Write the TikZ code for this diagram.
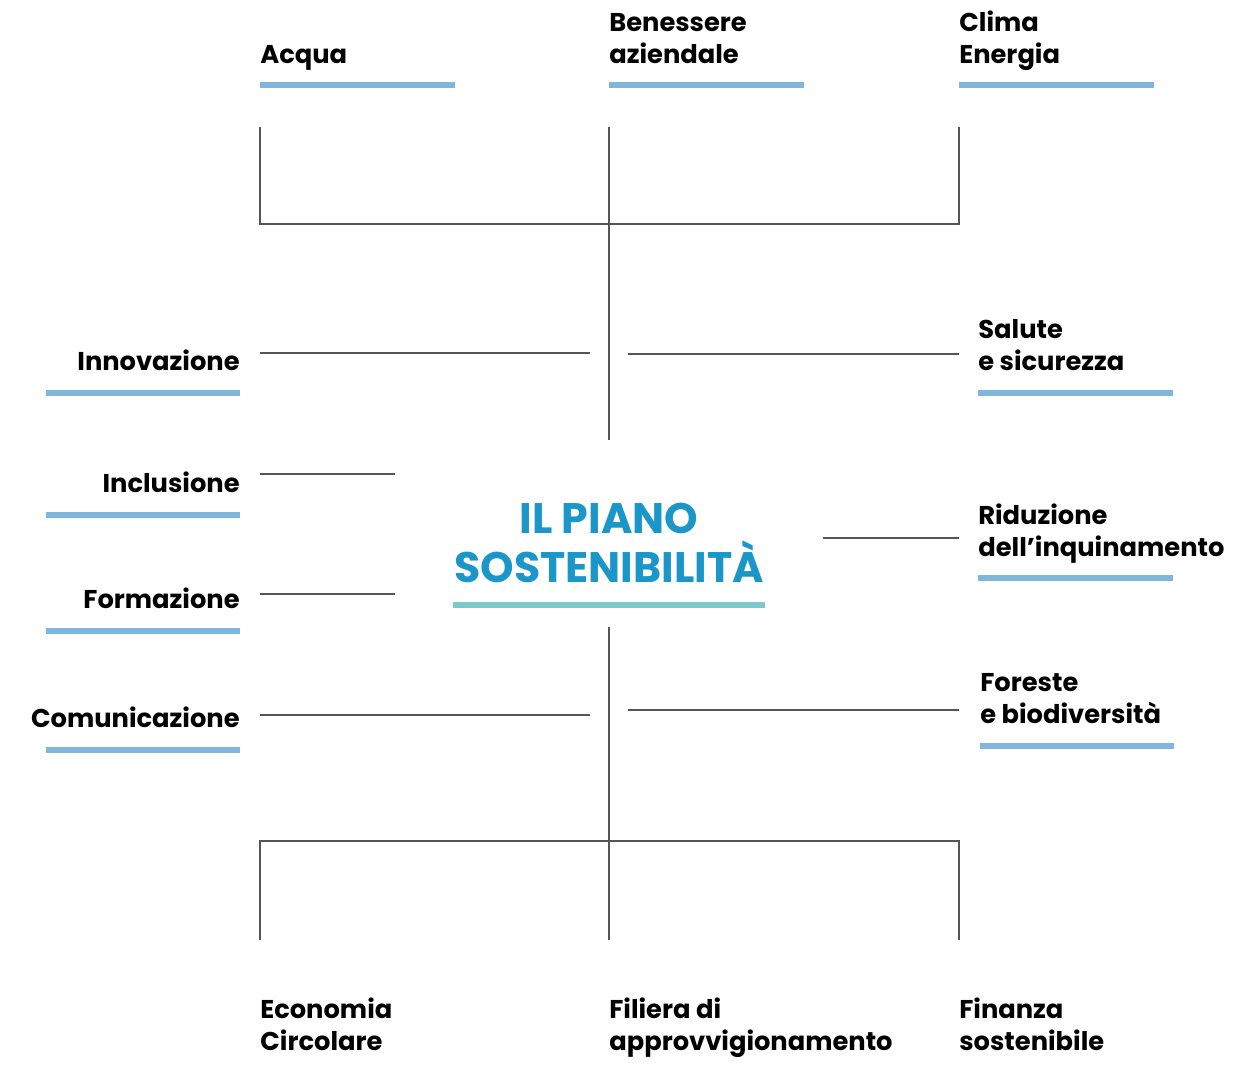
\documentclass[tikz,border=0pt]{standalone}
\usepackage{fontspec}
\setmainfont{Poppins}
\usetikzlibrary{positioning}
\definecolor{barblue}{HTML}{80B6DC}
\definecolor{titleblue}{HTML}{1A96C8}
\definecolor{barteal}{HTML}{7DC8CC}
\definecolor{linegray}{HTML}{555555}
\tikzset{
  conn/.style={draw=linegray,line width=0.8pt},
  bar/.style={draw=barblue,line width=3.9pt},
  topic/.style={font=\bfseries\fontsize{14.65}{18.2}\selectfont,inner sep=0pt,align=left},
  topicr/.style={topic,align=right,anchor=base east},
}
\begin{document}
\begin{tikzpicture}[x=0.02cm,y=-0.02cm]
  \useasboundingbox (0,0) rectangle (1260,1066);
  % top row
  \node[topic,anchor=base west] (acqua) at (260,63) {Acqua};
  \node[topic,anchor=base west] (benessere) at (609,63) {Benessere\\aziendale};
  \node[topic,anchor=base west] (clima) at (959,63) {Clima\\Energia};
  \draw[bar] (260,85) -- (455,85);
  \draw[bar] (609,85) -- (804,85);
  \draw[bar] (959,85) -- (1154,85);
  % left column
  \node[topicr] (innov) at (240,370) {Innovazione};
  \node[topicr] (incl) at (240,492) {Inclusione};
  \node[topicr] (form) at (240,608) {Formazione};
  \node[topicr] (comun) at (240,727) {Comunicazione};
  \draw[bar] (46,393) -- (240,393);
  \draw[bar] (46,515) -- (240,515);
  \draw[bar] (46,631) -- (240,631);
  \draw[bar] (46,750) -- (240,750);
  % right column
  \node[topic,anchor=base west] (salute) at (978,370) {Salute\\e sicurezza};
  \node[topic,anchor=base west] (riduz) at (978,556) {Riduzione\\dell'inquinamento};
  \node[topic,anchor=base west] (foreste) at (980,723) {Foreste\\e biodiversità};
  \draw[bar] (978,393) -- (1173,393);
  \draw[bar] (978,578) -- (1173,578);
  \draw[bar] (980,746) -- (1174,746);
  % bottom row
  \node[topic,anchor=base west] (econ) at (260,1050) {Economia\\Circolare};
  \node[topic,anchor=base west] (filiera) at (609,1050) {Filiera di\\approvvigionamento};
  \node[topic,anchor=base west] (finanza) at (959,1050) {Finanza\\sostenibile};
  % centre
  \node[font=\bfseries\fontsize{24.3}{28}\selectfont,text=titleblue,align=center,inner sep=0pt]
    (piano) at (609,543) {IL PIANO\\SOSTENIBILITÀ};
  \draw[draw=barteal,line width=3.9pt] (453,605) -- (765,605);
  % connectors
  \coordinate (tl) at (260,127); \coordinate (tm) at (609,127); \coordinate (tr) at (959,127);
  \coordinate (hl) at (260,224); \coordinate (hm) at (609,224); \coordinate (hr) at (959,224);
  \coordinate (mtop) at (609,440);
  \draw[conn] (tl) -- (hl) -- (hr) -- (tr);
  \draw[conn] (tm) -- (mtop);
  \coordinate (bl) at (260,940); \coordinate (bm) at (609,940); \coordinate (br) at (959,940);
  \coordinate (gl) at (260,841); \coordinate (gr) at (959,841);
  \coordinate (mbot) at (609,627);
  \draw[conn] (bl) -- (gl) -- (gr) -- (br);
  \draw[conn] (mbot) -- (bm);
  \coordinate (innovA) at (260,353); \coordinate (innovB) at (590,353);
  \coordinate (saluteA) at (628,354); \coordinate (saluteB) at (959,354);
  \coordinate (inclA) at (260,474); \coordinate (inclB) at (395,474);
  \coordinate (formA) at (260,594); \coordinate (formB) at (395,594);
  \coordinate (riduzA) at (823,538); \coordinate (riduzB) at (959,538);
  \coordinate (comunA) at (260,715); \coordinate (comunB) at (590,715);
  \coordinate (foresteA) at (628,710); \coordinate (foresteB) at (959,710);
  \draw[conn] (innovA) -- (innovB);
  \draw[conn] (saluteA) -- (saluteB);
  \draw[conn] (inclA) -- (inclB);
  \draw[conn] (formA) -- (formB);
  \draw[conn] (riduzA) -- (riduzB);
  \draw[conn] (comunA) -- (comunB);
  \draw[conn] (foresteA) -- (foresteB);
\end{tikzpicture}
\end{document}
